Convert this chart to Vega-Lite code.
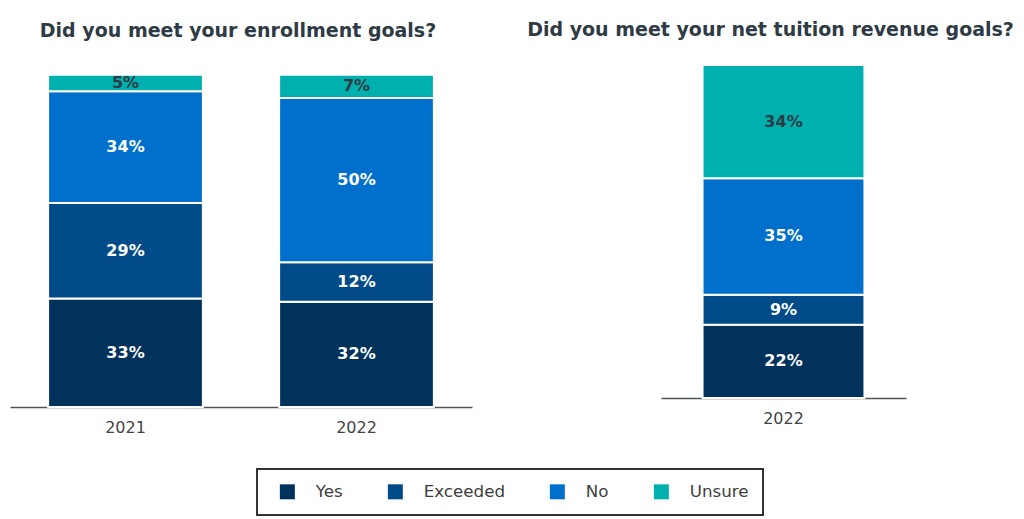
{
  "$schema": "https://vega.github.io/schema/vega-lite/v6.json",
  "padding": {"left": 10, "top": 21, "right": 5, "bottom": 5},
  "bounds": "flush",
  "spacing": 189,
  "datasets": {
    "responses": [
      {"response": "Yes", "rank": 1},
      {"response": "Exceeded", "rank": 2},
      {"response": "No", "rank": 3},
      {"response": "Unsure", "rank": 4}
    ],
    "enrollment": [
      {"year": "2021", "response": "Yes", "value": 0.33},
      {"year": "2021", "response": "Exceeded", "value": 0.29},
      {"year": "2021", "response": "No", "value": 0.34},
      {"year": "2021", "response": "Unsure", "value": 0.05},
      {"year": "2022", "response": "Yes", "value": 0.32},
      {"year": "2022", "response": "Exceeded", "value": 0.12},
      {"year": "2022", "response": "No", "value": 0.50},
      {"year": "2022", "response": "Unsure", "value": 0.07}
    ],
    "revenue": [
      {"year": "2022", "response": "Yes", "value": 0.22},
      {"year": "2022", "response": "Exceeded", "value": 0.09},
      {"year": "2022", "response": "No", "value": 0.35},
      {"year": "2022", "response": "Unsure", "value": 0.34}
    ]
  },
  "hconcat": [
    {
      "title": {"text": "Did you meet your enrollment goals?", "dx": -3},
      "width": 462,
      "height": 342,
      "data": {"name": "enrollment"},
      "transform": [
        {"lookup": "response", "from": {"data": {"name": "responses"}, "key": "response", "fields": ["rank"]}}
      ],
      "encoding": {
        "x": {
          "field": "year",
          "type": "nominal",
          "title": null,
          "scale": {"paddingInner": 0.33, "paddingOuter": 0.165}
        },
        "order": {"field": "rank", "type": "quantitative"}
      },
      "layer": [
        {
          "mark": {"type": "bar", "stroke": "white", "strokeWidth": 2},
          "encoding": {
            "y": {"field": "value", "type": "quantitative", "stack": "zero", "axis": null, "scale": {"domain": [0, 1.04], "nice": false}},
            "color": {
              "field": "response",
              "type": "nominal",
              "title": null,
              "scale": {
                "domain": ["Yes", "Exceeded", "No", "Unsure"],
                "range": ["#00325c", "#014b89", "#0070cc", "#00b0ae"]
              }
            }
          }
        },
        {
          "mark": {"type": "text", "font": "DejaVu Sans", "fontSize": 16, "fontWeight": "bold"},
          "encoding": {
            "y": {"field": "value", "type": "quantitative", "stack": "zero", "bandPosition": 0.5, "axis": null, "scale": {"domain": [0, 1.04], "nice": false}},
            "text": {"field": "value", "type": "quantitative", "format": ".0%"},
            "color": {"condition": {"test": "datum.response === 'Unsure'", "value": "#2e3a44"}, "value": "white"}
          }
        }
      ]
    },
    {
      "title": {"text": "Did you meet your net tuition revenue goals?", "dx": -13},
      "width": 245,
      "height": 333,
      "data": {"name": "revenue"},
      "transform": [
        {"lookup": "response", "from": {"data": {"name": "responses"}, "key": "response", "fields": ["rank"]}}
      ],
      "encoding": {
        "x": {
          "field": "year",
          "type": "nominal",
          "title": null,
          "scale": {"paddingInner": 0.33, "paddingOuter": 0.172}
        },
        "order": {"field": "rank", "type": "quantitative"}
      },
      "layer": [
        {
          "mark": {"type": "bar", "stroke": "white", "strokeWidth": 2},
          "encoding": {
            "y": {"field": "value", "type": "quantitative", "stack": "zero", "axis": null, "scale": {"domain": [0, 1.0], "nice": false}},
            "color": {
              "field": "response",
              "type": "nominal",
              "title": null,
              "scale": {
                "domain": ["Yes", "Exceeded", "No", "Unsure"],
                "range": ["#00325c", "#014b89", "#0070cc", "#00b0ae"]
              }
            }
          }
        },
        {
          "mark": {"type": "text", "font": "DejaVu Sans", "fontSize": 16, "fontWeight": "bold"},
          "encoding": {
            "y": {"field": "value", "type": "quantitative", "stack": "zero", "bandPosition": 0.5, "axis": null, "scale": {"domain": [0, 1.0], "nice": false}},
            "text": {"field": "value", "type": "quantitative", "format": ".0%"},
            "color": {"condition": {"test": "datum.response === 'Unsure'", "value": "#2e3a44"}, "value": "white"}
          }
        }
      ]
    }
  ],
  "config": {
    "view": {"stroke": null},
    "title": {
      "font": "DejaVu Sans",
      "fontSize": 19,
      "fontWeight": "bold",
      "color": "#2e3a44",
      "offset": 24
    },
    "axisX": {
      "domainColor": "#4d545b",
      "domainWidth": 1.5,
      "ticks": false,
      "grid": false,
      "labelAngle": 0,
      "labelFont": "DejaVu Sans",
      "labelFontSize": 16,
      "labelColor": "#444444",
      "labelPadding": 12
    },
    "legend": {
      "orient": "none",
      "legendX": 247,
      "legendY": 404,
      "direction": "horizontal",
      "padding": 14,
      "strokeColor": "#333333",
      "strokeWidth": 2,
      "symbolType": "square",
      "symbolSize": 225,
      "symbolStrokeWidth": 0,
      "symbolOffset": 8,
      "labelOffset": 20,
      "columnPadding": 36,
      "labelFont": "DejaVu Sans",
      "labelFontSize": 16.7,
      "labelColor": "#3d3d3d"
    }
  }
}
